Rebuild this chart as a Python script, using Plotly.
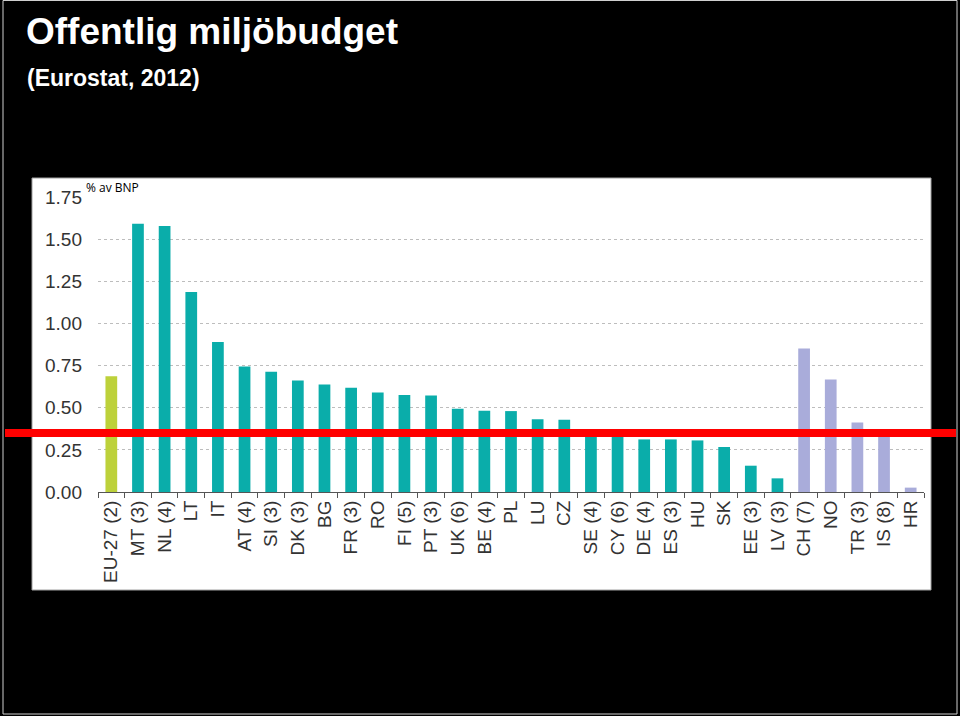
import plotly.graph_objects as go

# ---- data ----
categories = ["EU-27 (2)", "MT (3)", "NL (4)", "LT", "IT", "AT (4)", "SI (3)", "DK (3)", "BG",
              "FR (3)", "RO", "FI (5)", "PT (3)", "UK (6)", "BE (4)", "PL", "LU", "CZ",
              "SE (4)", "CY (6)", "DE (4)", "ES (3)", "HU", "SK", "EE (3)", "LV (3)",
              "CH (7)", "NO", "TR (3)", "IS (8)", "HR"]
values = [0.687, 1.592, 1.578, 1.187, 0.890, 0.745, 0.713, 0.662, 0.638,
          0.618, 0.590, 0.575, 0.573, 0.494, 0.482, 0.480, 0.431, 0.428,
          0.340, 0.330, 0.312, 0.312, 0.306, 0.267, 0.156, 0.081,
          0.851, 0.667, 0.413, 0.340, 0.026]
groups = ["EU"] + ["member"] * 25 + ["other"] * 5
reference_level = 0.35
y_ticks = [0, 0.25, 0.5, 0.75, 1.0, 1.25, 1.5, 1.75]
y_tick_labels = ["0.00", "0.25", "0.50", "0.75", "1.00", "1.25", "1.50", "1.75"]

group_colors = {"EU": "#BDD13A", "member": "#0AADAA", "other": "#A9ACDA"}
bar_colors = [group_colors[g] for g in groups]

W, H = 960, 716
L, R, T, B = 98, 36, 197, 224
pw, ph = W - L - R, H - T - B


def px_x(px):
    return (px - L) / pw


def px_y(py):
    return (H - B - py) / ph


fig = go.Figure()
fig.add_trace(go.Bar(x=categories, y=values, marker=dict(color=bar_colors, line=dict(width=0)),
                     hoverinfo="x+y"))

shapes = [
    # slide frame
    dict(type="rect", xref="paper", yref="paper", x0=px_x(3), x1=px_x(957), y0=px_y(714), y1=px_y(0.5),
         line=dict(color="#cfcfcf", width=1), fillcolor="rgba(0,0,0,0)", layer="below"),
    # white chart panel
    dict(type="rect", xref="paper", yref="paper", x0=px_x(32), x1=px_x(931), y0=px_y(590), y1=px_y(178),
         line=dict(color="#a0a0a0", width=1), fillcolor="white", layer="below"),
    # red reference line
    dict(type="line", xref="paper", yref="y", x0=px_x(5), x1=px_x(956), y0=reference_level, y1=reference_level,
         line=dict(color="#FF0000", width=8), layer="above"),
]

annotations = [
    dict(text="<b>Offentlig miljöbudget</b>", xref="paper", yref="paper", x=px_x(24), y=px_y(31),
         xanchor="left", yanchor="middle", showarrow=False,
         font=dict(family="Liberation Sans, Arial", size=37, color="white")),
    dict(text="<b>(Eurostat, 2012)</b>", xref="paper", yref="paper", x=px_x(25), y=px_y(78),
         xanchor="left", yanchor="middle", showarrow=False,
         font=dict(family="Liberation Sans, Arial", size=23, color="white")),
    dict(text="% av BNP", xref="paper", yref="paper", x=px_x(84), y=px_y(187),
         xanchor="left", yanchor="middle", showarrow=False,
         font=dict(family="Open Sans, Noto Sans", size=12, color="black")),
]

fig.update_layout(
    width=W, height=H,
    margin=dict(l=L, r=R, t=T, b=B, pad=0),
    paper_bgcolor="black", plot_bgcolor="white",
    showlegend=False, bargap=0.56,
    shapes=shapes, annotations=annotations,
    font=dict(family="Liberation Sans, Arial", color="#333333"),
)
fig.update_xaxes(
    type="category", showline=True, linecolor="#555555", linewidth=1,
    ticks="outside", ticklen=5, tickcolor="#555555", tickson="boundaries",
    tickangle=-90, tickfont=dict(size=19, color="#333333"), showgrid=False,
    range=[-0.5, len(categories) - 0.5],
)
fig.update_yaxes(
    range=[0, 1.75], tickvals=y_ticks, ticktext=y_tick_labels,
    showgrid=True, gridcolor="#bdbdbd", griddash="dot", gridwidth=1,
    zeroline=False, showline=False, ticks="", ticklabelstandoff=15,
    tickfont=dict(size=19, color="#333333"),
)

fig.write_html(
    "out.html",
    config={"displayModeBar": False},
    post_script="document.body.style.margin='0';document.body.style.padding='0';"
                "document.body.style.background='black';",
)
